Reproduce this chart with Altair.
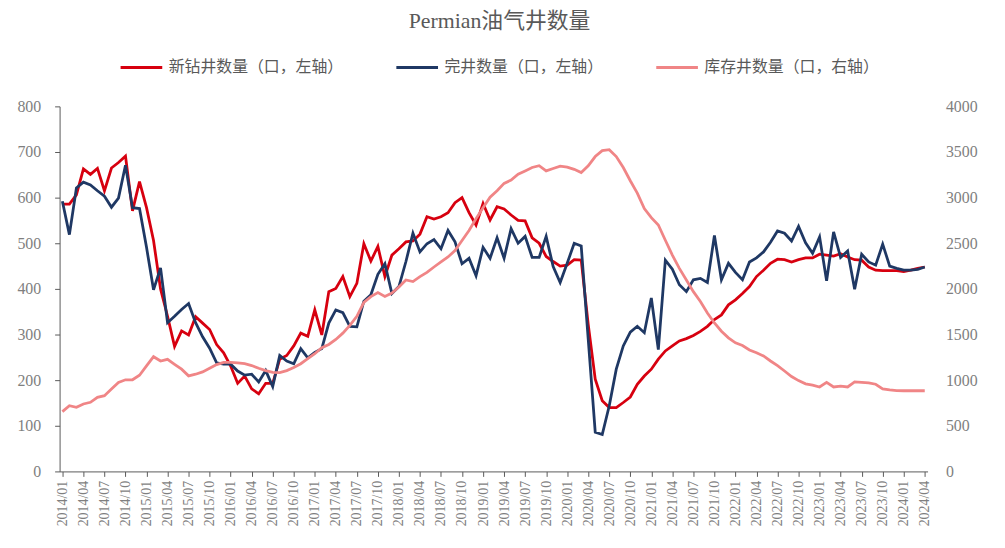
import altair as alt
import pandas as pd

months = [f"{y}/{m:02d}" for y in range(2014, 2025) for m in range(1, 13)][:124]

new_drilled = [
    586, 586, 606, 663, 651, 664, 615, 665, 677, 691, 571, 635,
    578, 506, 400, 340, 274, 308, 299, 339, 325, 311, 278, 260,
    231, 193, 209, 181, 170, 193, 193, 246, 254, 275, 303, 296,
    354, 299, 394, 401, 427, 383, 412, 499, 461, 493, 427, 474,
    488, 503, 505, 520, 558, 553, 558, 567, 589, 600, 567, 540,
    587, 551, 580, 575, 562, 550, 549, 512, 500, 471, 460, 450,
    452, 464, 463, 322, 202, 155, 140, 140, 151, 163, 191, 209,
    224, 246, 264, 275, 286, 291, 298, 307, 318, 333, 343, 365,
    376, 390, 405, 427, 441, 456, 465, 464, 459, 464, 468, 468,
    476, 474, 472, 477, 470, 464, 463, 448, 441, 440, 440, 440,
    438, 441, 445, 448,
]

completed = [
    592, 519, 621, 634, 628, 615, 603, 579, 599, 671, 578, 576,
    491, 398, 446, 326, 340, 355, 368, 326, 295, 270, 238, 235,
    235, 220, 211, 213, 196, 221, 186, 254, 242, 236, 269, 249,
    261, 269, 325, 354, 348, 318, 317, 373, 387, 432, 455, 390,
    405, 460, 522, 481, 499, 508, 488, 528, 503, 455, 467, 429,
    491, 467, 512, 467, 532, 500, 515, 469, 469, 515, 449, 414,
    456, 500, 494, 290, 86, 81, 144, 224, 275, 305, 318, 304,
    380, 267, 463, 443, 409, 394, 420, 423, 414, 517, 420, 456,
    436, 420, 459, 468, 481, 502, 527, 522, 505, 537, 501, 478,
    514, 418, 525, 469, 483, 399, 476, 459, 452, 498, 450, 445,
    441, 441, 443, 448,
]

inventory = [
    655, 720, 703, 739, 757, 812, 830, 902, 975, 1004, 1004, 1054,
    1156, 1257, 1210, 1228, 1174, 1120, 1047, 1065, 1090, 1130, 1170, 1195,
    1195, 1190, 1180, 1160, 1130, 1105, 1085, 1083, 1105, 1138, 1180, 1235,
    1290, 1355, 1391, 1446, 1515, 1600, 1699, 1851, 1915, 1960, 1917, 1955,
    2020, 2098, 2080, 2134, 2180, 2240, 2295, 2350, 2420, 2530, 2640, 2770,
    2890, 3004, 3076, 3156, 3192, 3257, 3293, 3330, 3350, 3293, 3319, 3345,
    3335, 3310, 3275, 3348, 3450, 3515, 3525, 3450, 3330, 3185, 3050, 2880,
    2780, 2700, 2533, 2370, 2225, 2098, 1970, 1862, 1736, 1627, 1536, 1464,
    1409, 1380, 1330, 1300, 1265, 1210, 1160, 1100, 1040, 995, 960, 946,
    925, 975, 925, 935, 925, 980, 975, 970, 955, 905, 893, 885,
    884, 884, 884, 884,
]

names = ["新钻井数量（口，左轴）", "完井数量（口，左轴）", "库存井数量（口，右轴）"]
colors = ["#D7000F", "#1F3864", "#F08586"]
left_ticks = [0, 100, 200, 300, 400, 500, 600, 700, 800]
right_ticks = [0, 500, 1000, 1500, 2000, 2500, 3000, 3500, 4000]

left_df = pd.concat([
    pd.DataFrame({"date": months, "value": new_drilled, "series": names[0]}),
    pd.DataFrame({"date": months, "value": completed, "series": names[1]}),
])
right_df = pd.DataFrame({"date": months, "value": inventory, "series": names[2]})

FONT = "Liberation Serif, Times New Roman, Noto Sans CJK SC"
LEG_FONT = "Noto Sans CJK SC"

x_enc = alt.X(
    "date:O",
    sort=months,
    scale=alt.Scale(type="point", padding=0.4),
    axis=alt.Axis(
        values=months[::3], labelAngle=270, title=None, domainColor="#595959",
        tickColor="#595959", tickSize=5, labelColor="#7f7f7f", labelFont=FONT,
        labelFontSize=14, labelPadding=4, grid=False, labelOverlap=False,
    ),
)

legend = alt.Legend(
    orient="none", legendX=60, legendY=-62, direction="horizontal", title=None,
    symbolType="stroke", symbolSize=1764, symbolStrokeWidth=3,
    labelFont=LEG_FONT, labelFontSize=16, labelColor="#595959", labelLimit=300,
    columnPadding=46, labelOffset=5,
)

color_enc = alt.Color(
    "series:N", scale=alt.Scale(domain=names, range=colors), legend=legend,
    sort=names,
)

left = alt.Chart(left_df).mark_line(strokeWidth=2.8).encode(
    x=x_enc,
    y=alt.Y(
        "value:Q", scale=alt.Scale(domain=[0, 800]),
        axis=alt.Axis(
            values=left_ticks, orient="left", title=None, grid=False,
            domainColor="#595959", tickColor="#595959", tickSize=5,
            labelColor="#7f7f7f", labelFont=FONT, labelFontSize=16,
            labelPadding=14,
        ),
    ),
    color=color_enc,
)

right = alt.Chart(right_df).mark_line(strokeWidth=2.8).encode(
    x=x_enc,
    y=alt.Y(
        "value:Q", scale=alt.Scale(domain=[0, 4000]),
        axis=alt.Axis(
            values=right_ticks, orient="right", title=None, grid=False,
            domain=False, ticks=False, labelColor="#7f7f7f", labelFont=FONT,
            labelFontSize=16, labelPadding=18, format="d",
        ),
    ),
    color=color_enc,
)

chart = alt.layer(left, right).resolve_scale(y="independent").properties(
    width=875,
    height=368,
    autosize=alt.AutoSizeParams(type="none"),
    padding={"left": 52, "top": 97, "right": 70, "bottom": 70},
    title=alt.TitleParams(
        "Permian油气井数量", font=FONT, fontSize=22, fontWeight="normal",
        color="#595959", anchor="middle", offset=12, dx=6,
    ),
).configure_view(stroke=None)

chart.save("out.html", embed_options={"renderer": "svg", "actions": False})
